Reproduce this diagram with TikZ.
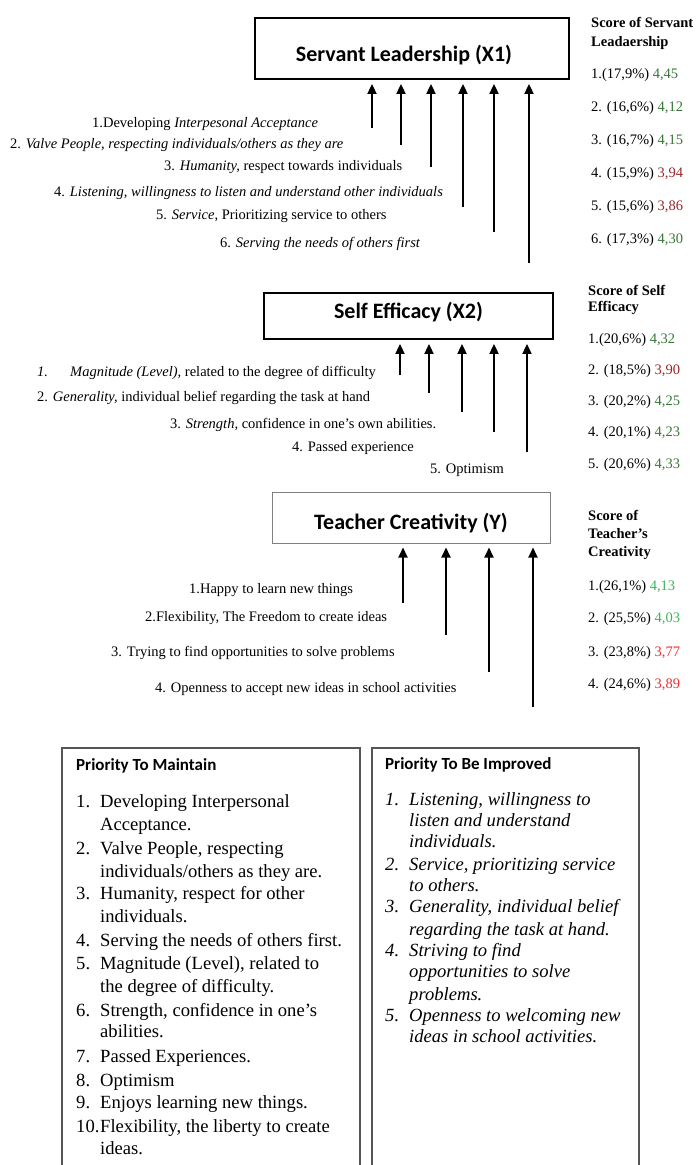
\documentclass[tikz,border=0pt]{standalone}
\usepackage{fontspec}
\setmainfont{Liberation Serif}
\newfontfamily\calib{Carlito}
\usetikzlibrary{arrows.meta}
\definecolor{dgreen}{RGB}{56,118,56}
\definecolor{dred}{RGB}{150,40,40}
\definecolor{bgreen}{RGB}{60,180,90}
\definecolor{bred}{RGB}{235,45,45}
\definecolor{frame}{RGB}{85,85,85}
\newcommand\apos{\symbol{39}}
\tikzset{
  box/.style={draw,line width=1.8pt,inner sep=0pt,font=\calib\bfseries\fontsize{22}{26}\selectfont},
  lab/.style={anchor=west,inner sep=0pt,text height=10pt,text depth=3pt,font=\fontsize{14.5}{17}\selectfont},
  hdr/.style={anchor=west,inner sep=0pt,align=left,font=\bfseries\fontsize{14.5}{19}\selectfont},
  arr/.style={line width=1.8pt,-{Triangle[length=10pt,width=9pt]},shorten >=4pt},
  item/.style={anchor=west,inner sep=0pt,text height=12pt,text depth=4pt,font=\fontsize{18.6}{22}\selectfont},
  iitem/.style={item,font=\itshape\fontsize{18.6}{22}\selectfont},
  ptitle/.style={anchor=west,inner sep=0pt,font=\calib\bfseries\fontsize{17}{20}\selectfont},
  openbox/.style={draw=frame,line width=1.3pt}
}
\begin{document}
\begin{tikzpicture}[x=1pt,y=-1pt]
\useasboundingbox (0,0) rectangle (696,1165);

% ---------- Servant Leadership ----------
\node[box,minimum width=314pt,minimum height=61pt,text height=27pt,text depth=2pt] (X1) at (412,48.5) {Servant Leadership (X1)\hspace*{16pt}};
\node[lab] (l1) at (92,124) {1.Developing \textit{Interpesonal Acceptance}};
\node[lab] (l2) at (10,145) {2. \textit{Valve People, respecting individuals/others as they are}};
\node[lab] (l3) at (164,167) {3. \textit{Humanity,} respect towards individuals};
\node[lab] (l4) at (54,193) {4. \textit{Listening, willingness to listen and understand other individuals}};
\node[lab] (l5) at (156,216) {5. \textit{Service}, Prioritizing service to others};
\node[lab] (l6) at (220,244) {6. \textit{Serving the needs of others first}};
\coordinate (a1) at (372,128);
\coordinate (a2) at (401,145);
\coordinate (a3) at (431,167);
\coordinate (a4) at (463,207);
\coordinate (a5) at (494,232);
\coordinate (a6) at (529,263);
\foreach \c in {a1,a2,a3,a4,a5,a6} \draw[arr] (\c) -- (\c |- X1.south);
\node[hdr] (h1) at (591,33) {Score of Servant\\Leadaership};
\node[lab] (s11) at (591,75) {1.(17,9\%) \textcolor{dgreen}{4,45}};
\node[lab] (s12) at (591,108) {2. (16,6\%) \textcolor{dgreen}{4,12}};
\node[lab] (s13) at (591,141) {3. (16,7\%) \textcolor{dgreen}{4,15}};
\node[lab] (s14) at (591,174) {4. (15,9\%) \textcolor{dred}{3,94}};
\node[lab] (s15) at (591,207) {5. (15,6\%) \textcolor{dred}{3,86}};
\node[lab] (s16) at (591,240) {6. (17,3\%) \textcolor{dgreen}{4,30}};

% ---------- Self Efficacy ----------
\node[box,minimum width=289pt,minimum height=46pt,text height=13pt,text depth=8pt] (X2) at (408.5,316) {Self Efficacy (X2)};
\node[lab] (m1) at (37,373) {\makebox[33pt][l]{\textit{1.}}\textit{Magnitude (Level),} related to the degree of difficulty};
\node[lab] (m2) at (37,398) {2. \textit{Generality,} individual belief regarding the task at hand};
\node[lab] (m3) at (170,425) {3. \textit{Strength,} confidence in one\apos s own abilities.};
\node[lab] (m4) at (292,448) {4. Passed experience};
\node[lab] (m5) at (430,470) {5. Optimism};
\coordinate (b1) at (400,375);
\coordinate (b2) at (429,393);
\coordinate (b3) at (462,412);
\coordinate (b4) at (494,432);
\coordinate (b5) at (527,452);
\foreach \c in {b1,b2,b3,b4,b5} \draw[arr] (\c) -- (\c |- X2.south);
\node[hdr,font=\bfseries\fontsize{14.5}{16.5}\selectfont] (h2) at (588,300) {Score of Self\\Efficacy};
\node[lab] (s21) at (588,340) {1.(20,6\%) \textcolor{dgreen}{4,32}};
\node[lab] (s22) at (588,371) {2. (18,5\%) \textcolor{dred}{3,90}};
\node[lab] (s23) at (588,402) {3. (20,2\%) \textcolor{dgreen}{4,25}};
\node[lab] (s24) at (588,433) {4. (20,1\%) \textcolor{dgreen}{4,23}};
\node[lab] (s25) at (588,465) {5. (20,6\%) \textcolor{dgreen}{4,33}};

% ---------- Teacher Creativity ----------
\node[box,draw=gray,line width=1pt,minimum width=278pt,minimum height=51pt,text height=25pt,text depth=2pt] (Y) at (411,517.5) {Teacher Creativity (Y)};
\node[lab] (c1) at (189,590) {1.Happy to learn new things};
\node[lab] (c2) at (145,618) {2.Flexibility, The Freedom to create ideas};
\node[lab] (c3) at (111,653) {3. Trying to find opportunities to solve problems};
\node[lab] (c4) at (155,689) {4. Openness to accept new ideas in school activities};
\coordinate (d1) at (403,603);
\coordinate (d2) at (446,635);
\coordinate (d3) at (489,672);
\coordinate (d4) at (533,707);
\foreach \c in {d1,d2,d3,d4} \draw[arr] (\c) -- (\c |- Y.south);
\node[hdr,font=\bfseries\fontsize{14.5}{18}\selectfont] (h3) at (588,535) {Score of\\Teacher’s\\Creativity};
\node[lab] (s31) at (588,587) {1.(26,1\%) \textcolor{bgreen}{4,13}};
\node[lab] (s32) at (588,619) {2. (25,5\%) \textcolor{bgreen}{4,03}};
\node[lab] (s33) at (588,653) {3. (23,8\%) \textcolor{bred}{3,77}};
\node[lab] (s34) at (588,685) {4. (24,6\%) \textcolor{bred}{3,89}};

% ---------- Priority To Maintain ----------
\draw[openbox] (62,1166) -- (62,748) -- (360,748) -- (360,1166);
\node[ptitle] (pm) at (76,766) {Priority To Maintain};
\foreach \y/\n/\t [count=\i] in {
  803/1./{Developing Interpersonal},
  826//{Acceptance.},
  850/2./{Valve People, respecting},
  873//{individuals/others as they are.},
  895/3./{Humanity, respect for other},
  918//{individuals.},
  942/4./{Serving the needs of others first.},
  965/5./{Magnitude (Level), related to},
  988//{the degree of difficulty.},
  1012/6./{Strength, confidence in one\apos s},
  1033//{abilities.},
  1058/7./{Passed Experiences.},
  1082/8./{Optimism},
  1104/9./{Enjoys learning new things.},
  1128/10./{Flexibility, the liberty to create},
  1150//{ideas.}} {
  \node[item] (pmn\i) at (76,\y) {\n};
  \node[item] (pmt\i) at (100,\y) {\t};
}

% ---------- Priority To Be Improved ----------
\draw[openbox] (372,1166) -- (372,748) -- (639,748) -- (639,1166);
\node[ptitle] (pi) at (385,765) {Priority To Be Improved};
\foreach \y/\n/\t [count=\i] in {
  801/1./{Listening, willingness to},
  822//{listen and understand},
  843//{individuals.},
  866/2./{Service, prioritizing service},
  887//{to others.},
  908/3./{Generality, individual belief},
  931//{regarding the task at hand.},
  952/4./{Striving to find},
  973//{opportunities to solve},
  996//{problems.},
  1017/5./{Openness to welcoming new},
  1038//{ideas in school activities.}} {
  \node[iitem] (pin\i) at (385,\y) {\n};
  \node[iitem] (pit\i) at (409,\y) {\t};
}
\end{tikzpicture}
\end{document}
